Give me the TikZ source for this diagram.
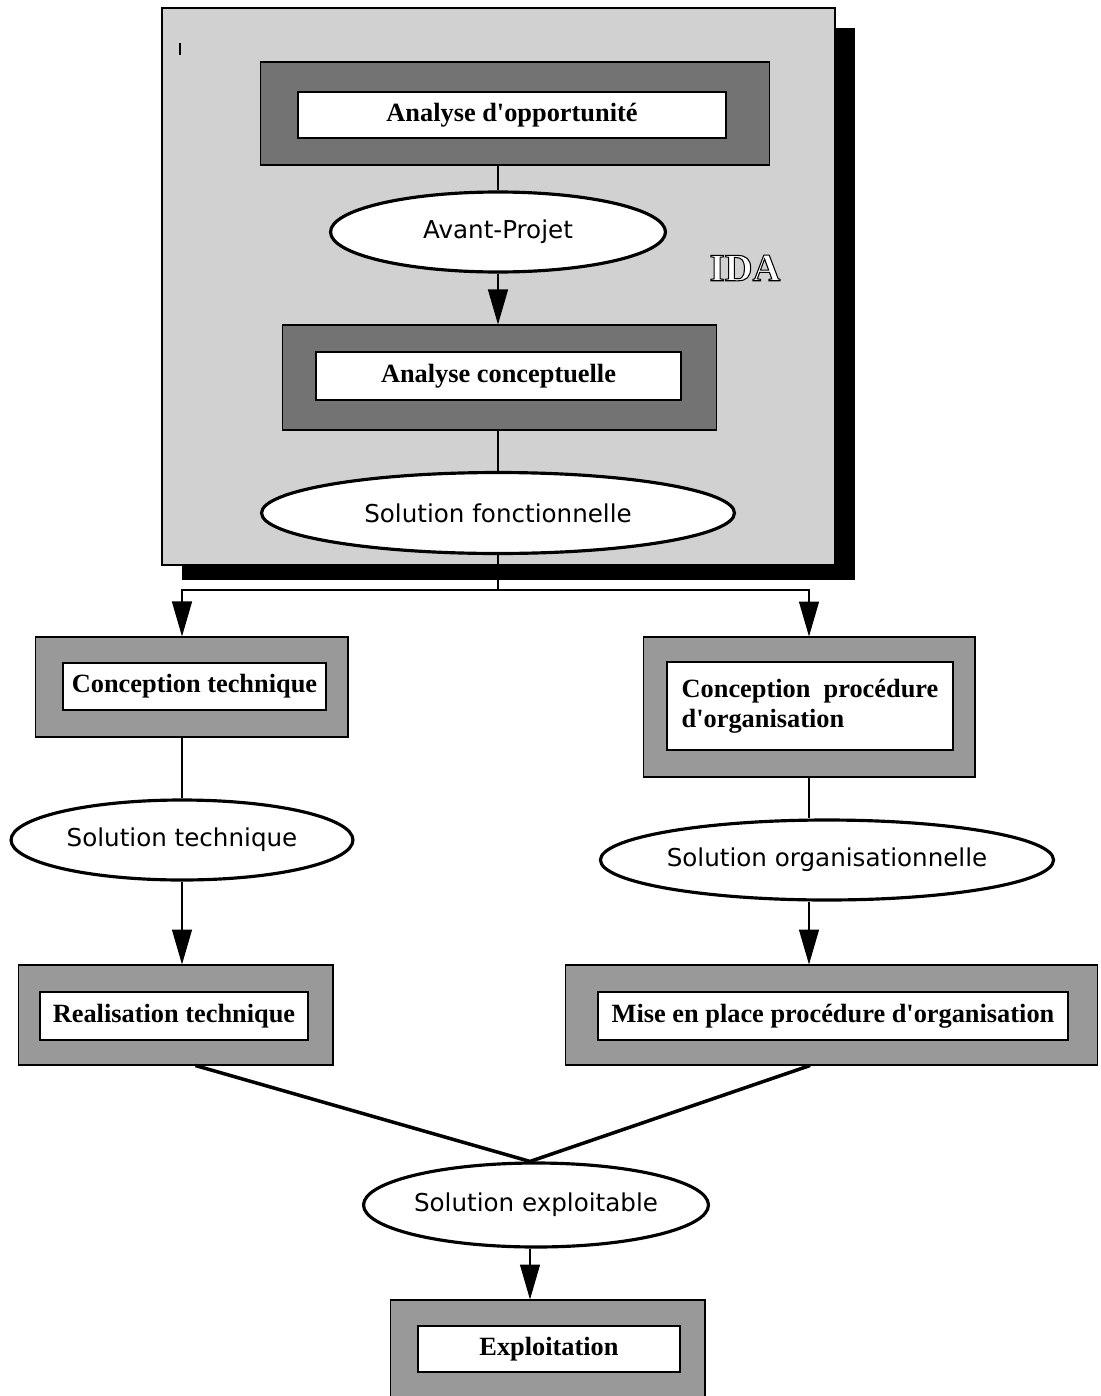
\documentclass[tikz,border=0pt]{standalone}
\usepackage{fontspec}
\setmainfont{Liberation Serif}
\newfontfamily\solfont{DejaVu Sans}
\usetikzlibrary{arrows.meta, shapes.geometric}

% outlined letters (white fill, black stroke)
\newcommand{\outlined}[1]{\special{pdf:literal direct 2 Tr 0.6 w 1 g 0 G}#1\special{pdf:literal direct 0 Tr 0 g}}

\begin{document}
\begin{tikzpicture}[x=0.02cm, y=-0.02cm,
    frame/.style={draw, line width=0.6pt, fill=black!40, inner sep=0pt},
    darkframe/.style={frame, fill=black!55},
    title/.style={draw, line width=1.2pt, fill=white, inner sep=0pt, font=\fontsize{15}{17}\selectfont\bfseries},
    sol/.style={draw, ellipse, line width=1.8pt, fill=white, inner sep=0pt, font=\solfont\fontsize{14}{16}\selectfont},
    link/.style={line width=0.7pt},
    arrow/.style={link, -{Triangle[length=0.7cm, width=0.4cm]}}]
    \useasboundingbox (0,0) rectangle (1101,1396);

    % IDA panel and its shadow
    \fill[black] (182,28) rectangle (855,580);
    \filldraw[fill=black!18, line width=0.8pt] (162,8) rectangle (835,565);
    \draw[line width=1.5pt] (180,43) -- (180,55);
    \node[font=\fontsize{22}{24}\selectfont\bfseries] (ida) at (745,268) {\outlined{IDA}};

    % Nodes
    \node[darkframe, minimum width=10.2cm, minimum height=2.06cm] (opp) at (515,113.5) {};
    \node[title, minimum width=8.56cm, minimum height=0.92cm] (oppt) at (512,115) {Analyse d\textquotesingle opportunité};
    \node[sol, minimum width=6.7cm, minimum height=1.6cm] (av) at (498,232) {Avant-Projet};
    \node[darkframe, minimum width=8.7cm, minimum height=2.1cm] (conc) at (499.5,377.5) {};
    \node[title, minimum width=7.3cm, minimum height=0.96cm] (conct) at (498.5,376) {Analyse conceptuelle};
    \node[sol, minimum width=9.46cm, minimum height=1.62cm] (solf) at (498,513) {Solution fonctionnelle};

    \node[frame, minimum width=6.26cm, minimum height=2cm] (ct) at (191.5,687) {};
    \node[title, minimum width=5.26cm, minimum height=0.94cm] (ctt) at (194.5,686.5) {Conception technique};
    \node[frame, minimum width=6.64cm, minimum height=2.8cm] (cpo) at (809,707) {};
    \node[title, align=left, minimum width=5.72cm, minimum height=1.76cm] (cpot) at (810,706) {Conception\ \ procédure\\d\textquotesingle organisation};

    \node[sol, minimum width=6.84cm, minimum height=1.6cm] (st) at (182,840) {Solution technique};
    \node[sol, minimum width=8.68cm, minimum height=1.6cm] (so) at (827,860) {Solution organisationnelle};

    \node[frame, minimum width=6.3cm, minimum height=2cm] (rt) at (175.5,1015) {};
    \node[title, minimum width=5.36cm, minimum height=0.96cm] (rtt) at (174,1016) {Realisation technique};
    \node[frame, minimum width=10.66cm, minimum height=2cm] (mp) at (831.5,1015) {};
    \node[title, minimum width=9.4cm, minimum height=0.96cm] (mpt) at (833,1016) {Mise en place procédure d\textquotesingle organisation};

    \node[sol, minimum width=6.8cm, minimum height=1.68cm] (se) at (536,1205) {Solution exploitable};
    \node[frame, minimum width=6.3cm, minimum height=2cm] (ex) at (547.5,1350) {};
    \node[title, minimum width=5.24cm, minimum height=0.92cm] (ext) at (549,1349) {Exploitation};

    % Arrows
    \draw[link] (av.north |- opp.south) -- (av.north);
    \draw[arrow] (av.south) -- (av.south |- conc.north);
    \draw[link] (solf.north |- conc.south) -- (solf.north);
    \coordinate (split) at (498,590);
    \coordinate (splitl) at (182,590);
    \coordinate (splitr) at (809,590);
    \draw[link] (solf.south) -- (split);
    \draw[arrow] (split) -- (splitl) -- (splitl |- ct.north);
    \draw[arrow] (split) -- (splitr) -- (splitr |- cpo.north);
    \draw[link] (st.north |- ct.south) -- (st.north);
    \draw[arrow] (st.south) -- (st.south |- rt.north);
    \draw[link] (cpo.south) -- (cpo.south |- so.north);
    \draw[arrow] (cpo.south |- so.south) -- (cpo.south |- mp.north);
    \draw[line width=2pt] ([xshift=0.4cm]rt.south) -- ([xshift=-0.12cm]se.north) -- ([xshift=-0.43cm]mp.south);
    \draw[arrow] ([xshift=-0.12cm]se.south) -- ([xshift=-0.12cm]se.south |- ex.north);
\end{tikzpicture}
\end{document}
